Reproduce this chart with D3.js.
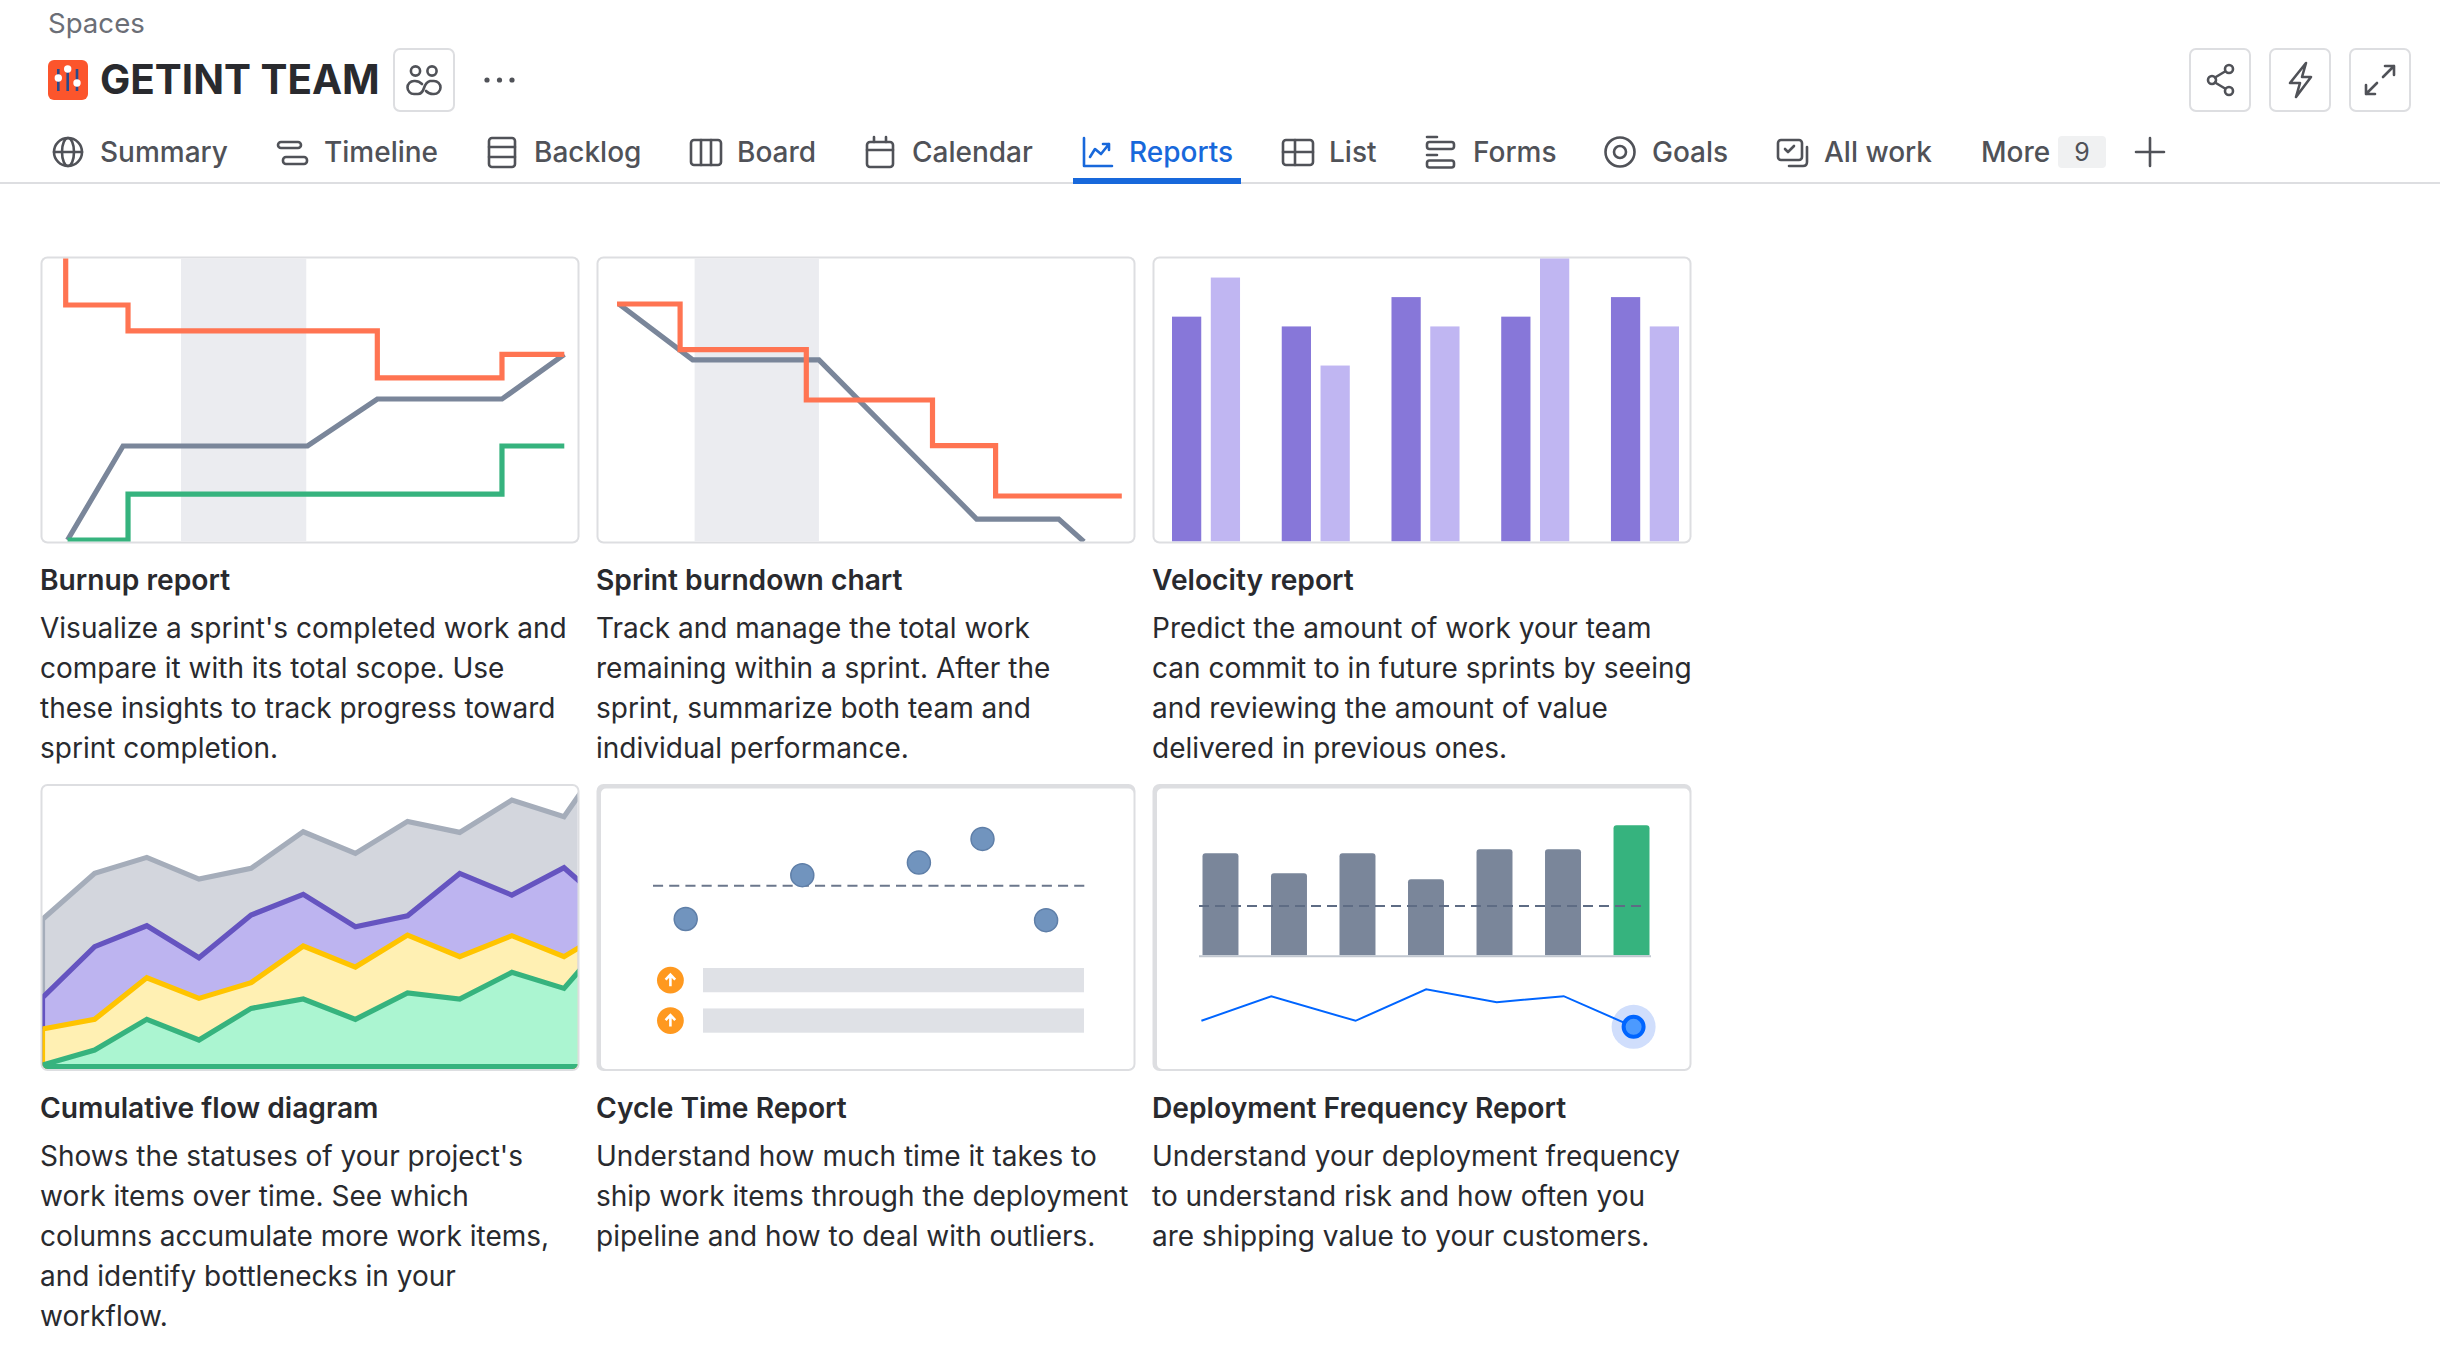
<!DOCTYPE html>
<html>
<head>
<meta charset="utf-8">
<title>Reports</title>
<script src="https://cdn.jsdelivr.net/npm/d3@7"></script>
<style>
  html, body { margin: 0; background: #fff; }
  svg { display: block; }
  text { font-family: Inter, "Noto Sans", sans-serif; }
</style>
</head>
<body>
<svg id="page" width="2440" height="1372"></svg>
<script>
// ---- page text
const tabNames = ['Summary', 'Timeline', 'Backlog', 'Board', 'Calendar', 'Reports', 'List', 'Forms', 'Goals', 'All work'];
const tabTextX = [100, 324, 534, 737, 912, 1129, 1329, 1473, 1652, 1824];
const tabIconX = [68, 292, 502, 706, 880, 1098, 1298, 1440, 1620, 1792];

const reportTitles = ['Burnup report', 'Sprint burndown chart', 'Velocity report', 'Cumulative flow diagram', 'Cycle Time Report', 'Deployment Frequency Report'];
const reportBlurbs = [
  ["Visualize a sprint's completed work and", 'compare it with its total scope. Use', 'these insights to track progress toward', 'sprint completion.'],
  ['Track and manage the total work', 'remaining within a sprint. After the', 'sprint, summarize both team and', 'individual performance.'],
  ['Predict the amount of work your team', 'can commit to in future sprints by seeing', 'and reviewing the amount of value', 'delivered in previous ones.'],
  ["Shows the statuses of your project's", 'work items over time. See which', 'columns accumulate more work items,', 'and identify bottlenecks in your', 'workflow.'],
  ['Understand how much time it takes to', 'ship work items through the deployment', 'pipeline and how to deal with outliers.'],
  ['Understand your deployment frequency', 'to understand risk and how often you', 'are shipping value to your customers.']
];

// ---- burnup
const burnupScopeDays = [0, 0, 1, 1, 5, 5, 7, 7, 8];
const burnupScope = [12, 10, 10, 8.9, 8.9, 6.9, 6.9, 7.9, 7.9];
const burnupGuideDays = [0.03, 0.92, 3.88, 5, 7, 8];
const burnupGuide = [0, 4, 4, 6, 6, 7.9];
const burnupDoneDays = [0.03, 1, 1, 7, 7, 8];
const burnupDone = [0, 0, 1.95, 1.95, 4, 4];
const burnupWeekend = [1.85, 3.86];

// ---- burndown
const burndownLeftDays = [0, 1, 1, 3, 3, 5, 5, 6, 6, 8];
const burndownLeft = [12, 12, 10.1, 10.1, 8, 8, 6.1, 6.1, 4, 4];
const burndownGuideDays = [0.03, 1.2, 3.2, 5.7, 7, 7.4];
const burndownGuide = [12, 9.67, 9.67, 3.04, 3.04, 2.1];
const burndownWeekend = [1.23, 3.2];

// ---- velocity
const sprints = ['S1', 'S2', 'S3', 'S4', 'S5'];
const committed = [23, 22, 25, 23, 25];
const completed = [27, 18, 22, 29, 22];

// ---- cumulative flow, running totals per status
const flowDays = [0, 1, 2, 3, 4, 5, 6, 7, 8, 9, 10, 11];
const flowDone = [0.5, 5, 14.2, 8, 17.5, 20.3, 14.2, 22.1, 20.3, 28.3, 23.5, 41.5];
const flowReview = [11.3, 14.2, 26.7, 20.5, 25.2, 36.2, 29.9, 39.5, 33, 39.3, 33, 42.4];
const flowActive = [20.7, 36, 42.3, 32.7, 45.5, 51.7, 42, 45.3, 58, 51.5, 59.7, 45.9];
const flowTodo = [44.2, 58, 62.8, 56.3, 59.5, 70.5, 64, 73.6, 70.3, 80, 75, 97.5];

// ---- cycle time
const cycleDays = [0, 11, 22, 28, 34];
const cycleHours = [8.9, 23.5, 27.7, 35.6, 8.5];
const cycleMean = 20;
const outlierCount = ['a', 'b'];

// ---- deployment frequency
const deployWeeks = ['W1', 'W2', 'W3', 'W4', 'W5', 'W6', 'W7'];
const deployCounts = [51, 41, 51, 38, 53, 53, 65];
const deployMean = 24.6;
const riskPos = [0, 0.97, 2.14, 3.12, 4.1, 5.03, 6];
const riskValues = [3.2, 7.3, 3.2, 8.45, 6.3, 7.3, 2.2];

const svg = d3.select('#page');
const ink = '#505258', dark = '#292a2e', border = '#dddee1';
const red = '#ff7452', slate = '#7a869a', green = '#36b37e';
const trendWidth = 5.2;

function label(parent, x, y, str, size, weight, fill, anchor) {
  return parent.append('text').attr('x', x).attr('y', y).text(str)
    .attr('font-size', size).attr('font-weight', weight || 400)
    .attr('fill', fill || dark).attr('text-anchor', anchor || 'start');
}

function line(parent, xs, ys, x, y, color, width) {
  const gen = d3.line().x(i => x(xs[i])).y(i => y(ys[i]));
  return parent.append('path').attr('d', gen(d3.range(xs.length)))
    .attr('fill', 'none').attr('stroke', color).attr('stroke-width', width)
    .attr('stroke-linejoin', 'miter');
}

// ---- icons, all drawn around their own center
function stroked(g, color, width) {
  return g.attr('fill', 'none').attr('stroke', color || ink).attr('stroke-width', width || 2.6)
    .attr('stroke-linecap', 'round').attr('stroke-linejoin', 'round');
}
function icon(x, y, color, width) {
  return stroked(svg.append('g').attr('transform', `translate(${x},${y})`), color, width);
}
const tabIcons = {
  Summary(g) {
    g.append('circle').attr('r', 14);
    g.append('ellipse').attr('rx', 6).attr('ry', 14);
    g.append('path').attr('d', 'M-14 0H14');
  },
  Timeline(g) {
    g.append('rect').attr('x', -14).attr('y', -10).attr('width', 23).attr('height', 6).attr('rx', 3);
    g.append('rect').attr('x', -9).attr('y', 5).attr('width', 24).attr('height', 7).attr('rx', 3);
  },
  Backlog(g) {
    g.append('rect').attr('x', -13).attr('y', -14).attr('width', 26).attr('height', 29).attr('rx', 3);
    g.append('path').attr('d', 'M-13 -5H13M-13 5H13');
  },
  Board(g) {
    g.append('rect').attr('x', -15).attr('y', -12).attr('width', 30).attr('height', 25).attr('rx', 3);
    g.append('path').attr('d', 'M-5 -12V13M5 -12V13');
  },
  Calendar(g) {
    g.append('rect').attr('x', -13).attr('y', -10).attr('width', 26).attr('height', 25).attr('rx', 3);
    g.append('path').attr('d', 'M-13 -2H13M-6 -15V-10M6 -15V-10');
  },
  Reports(g) {
    g.append('path').attr('d', 'M-14 -14V14H14M-8 5L-3 -3L3 2L11 -8M5 -8H11V-2');
  },
  List(g) {
    g.append('rect').attr('x', -15).attr('y', -12).attr('width', 30).attr('height', 25).attr('rx', 3);
    g.append('path').attr('d', 'M-15 0H15M-3 -12V13');
  },
  Forms(g) {
    g.append('path').attr('d', 'M-13 -15H-3M-13 3H-3');
    g.append('rect').attr('x', -13).attr('y', -10).attr('width', 27).attr('height', 7).attr('rx', 2.5);
    g.append('rect').attr('x', -13).attr('y', 8.5).attr('width', 27).attr('height', 7).attr('rx', 2.5);
  },
  Goals(g) {
    g.append('circle').attr('r', 14.5);
    g.append('circle').attr('r', 6);
  },
  'All work'(g) {
    g.append('rect').attr('x', -14).attr('y', -12).attr('width', 24).attr('height', 20).attr('rx', 3);
    g.append('path').attr('d', 'M-7 -3L-4 0L2 -6M15 -5V10Q15 14 11 14H-3');
  }
};

// ---- header
label(svg, 48, 33, 'Spaces', 27.6, 400, '#6b6e76');
label(svg, 100, 94, 'GETINT TEAM', 40.4, 700, dark);

const logo = svg.append('g');
logo.append('rect').attr('x', 48).attr('y', 60).attr('width', 40).attr('height', 40).attr('rx', 6).attr('fill', '#fc552c');
[[58.3, 78], [67.7, 69], [77, 83]].forEach(k => {
  logo.append('path').attr('d', `M${k[0]} 69V91`).attr('stroke', '#2a4a8a').attr('stroke-width', 2.6);
  logo.append('circle').attr('cx', k[0]).attr('cy', k[1]).attr('r', 3.7).attr('fill', '#fff');
});

[393, 2189, 2269, 2349].forEach(x => {
  svg.append('rect').attr('x', x + 1).attr('y', 49).attr('width', 60).attr('height', 62).attr('rx', 6)
    .attr('fill', '#fff').attr('stroke', '#dddee1').attr('stroke-width', 2);
});

const people = icon(424, 80);
[-8.5, 8].forEach(dx => people.append('circle').attr('cx', dx).attr('cy', -9).attr('r', 4.6));
people.append('path').attr('d', 'M-2 4Q-5 1 -9 1H-10A6.5 6.5 0 0 0 -10 14H-6Q-2 14 0 8Q2 2 6 1H10A6.5 6.5 0 0 1 10 14H9Q5 14 2 11');
[487, 499.5, 512].forEach(x => svg.append('circle').attr('cx', x).attr('cy', 80).attr('r', 2.6).attr('fill', ink));

const share = icon(2220, 80);
share.append('circle').attr('cx', 9).attr('cy', -11).attr('r', 4);
share.append('circle').attr('cx', -8).attr('cy', 0).attr('r', 4);
share.append('circle').attr('cx', 9).attr('cy', 11).attr('r', 4);
share.append('path').attr('d', 'M-5 -2.5L5 -8.5M-5 2.5L5 8.5');
icon(2300, 80).append('path').attr('d', 'M6 -17L-10 3H0L-4 17L11 -3H2Z');
icon(2380, 80).append('path').attr('d', 'M3 -3L14 -14M5 -14H14V-5M-3 3L-14 14M-14 5V14H-5');

// ---- tabs
tabNames.forEach((name, i) => {
  const active = name === 'Reports';
  const color = active ? '#1868db' : ink;
  label(svg, tabTextX[i], 162, name, 28, 500, color);
  tabIcons[name](icon(tabIconX[i], 152, color));
});
label(svg, 1981, 162, 'More', 28, 500, ink);
svg.append('rect').attr('x', 2058).attr('y', 136).attr('width', 48).attr('height', 32).attr('rx', 4).attr('fill', '#f0f1f2');
label(svg, 2082, 161, '9', 25, 400, ink, 'middle');
icon(2150, 152).append('path').attr('d', 'M-14 0H14M0 -14V14');

svg.append('rect').attr('x', 0).attr('y', 182).attr('width', 2440).attr('height', 2).attr('fill', '#dddee1');
svg.append('rect').attr('x', 1073).attr('y', 178).attr('width', 168).attr('height', 6).attr('fill', '#1868db');

// ---- cards
const colX = [40.5, 596.5, 1152.5];
const rowY = [256.5, 784];
const cardW = 539;
const cardH = [287, 287];

function card(index, thick) {
  const col = index % 3, row = Math.floor(index / 3);
  const x = colX[col], y = rowY[row], h = cardH[row];
  const g = svg.append('g');
  const id = 'clip' + index;
  const inset = thick ? 4.5 : 2;
  g.append('clipPath').attr('id', id).append('rect')
    .attr('x', x + inset).attr('y', y + inset)
    .attr('width', cardW - inset - 2).attr('height', h - inset - 2).attr('rx', 5);
  g.append('rect').attr('x', x).attr('y', y).attr('width', cardW).attr('height', h).attr('rx', 7).attr('fill', border);
  g.append('rect').attr('x', x + inset).attr('y', y + inset)
    .attr('width', cardW - inset - 2).attr('height', h - inset - 2).attr('rx', 5).attr('fill', '#fff');
  const titleY = 590 + row * 528;
  const textX = [40, 596, 1152][col];
  label(svg, textX, titleY, reportTitles[index], 28.2, 600, dark);
  reportBlurbs[index].forEach((str, i) => label(svg, textX, titleY + 48 + i * 40, str, 28, 400, dark));
  return g.append('g').attr('clip-path', `url(#${id})`);
}

// burnup
{
  const plot = card(0);
  const x = d3.scaleLinear().domain([0, 8]).range([65.7, 564.3]);
  const y = d3.scaleLinear().domain([0, 12]).range([540, 258]);
  plot.append('rect').attr('x', x(burnupWeekend[0])).attr('y', 258)
    .attr('width', x(burnupWeekend[1]) - x(burnupWeekend[0])).attr('height', 284).attr('fill', '#ebecf0');
  line(plot, burnupGuideDays, burnupGuide, x, y, slate, trendWidth);
  line(plot, burnupDoneDays, burnupDone, x, y, green, trendWidth);
  line(plot, burnupScopeDays, burnupScope, x, y, red, trendWidth);
}

// burndown
{
  const plot = card(1);
  const x = d3.scaleLinear().domain([0, 8]).range([617, 1121.8]);
  const y = d3.scaleLinear().domain([0, 12]).range([592, 304]);
  plot.append('rect').attr('x', x(burndownWeekend[0])).attr('y', 258)
    .attr('width', x(burndownWeekend[1]) - x(burndownWeekend[0])).attr('height', 284).attr('fill', '#ebecf0');
  line(plot, burndownGuideDays, burndownGuide, x, y, slate, trendWidth);
  line(plot, burndownLeftDays, burndownLeft, x, y, red, trendWidth);
}

// velocity
{
  const plot = card(2);
  const x = d3.scaleBand().domain(sprints).range([1172, 1679]).paddingInner(0.38);
  const sub = d3.scaleBand().domain([0, 1]).range([0, x.bandwidth()]).paddingInner(0.246);
  const y = d3.scaleLinear().domain([0, 29]).range([541.5, 258]);
  [[committed, '#8777d9'], [completed, '#c0b6f2']].forEach((series, s) => {
    plot.selectAll(null).data(series[0]).join('rect')
      .attr('x', (d, i) => x(sprints[i]) + sub(s)).attr('y', d => y(d))
      .attr('width', sub.bandwidth()).attr('height', d => y(0) - y(d)).attr('fill', series[1]);
  });
}

// cumulative flow
{
  const plot = card(3);
  const x = d3.scaleLinear().domain([0, 10]).range([42.5, 564]);
  const y = d3.scaleLinear().domain([0, 100]).range([1066.7, 733.4]);
  const layers = [
    [flowTodo, '#d3d6dd', '#a5adba'],
    [flowActive, '#bdb4f0', '#6554c0'],
    [flowReview, '#fff0b3', '#ffc400'],
    [flowDone, '#abf5d1', green]
  ];
  layers.forEach(layer => {
    const area = d3.area().x(d => x(d)).y0(y(0)).y1((d, i) => y(layer[0][i]));
    plot.append('path').attr('d', area(flowDays))
      .attr('fill', layer[1]).attr('stroke', layer[2]).attr('stroke-width', trendWidth);
  });
}

// cycle time
{
  const plot = card(4, true);
  const x = d3.scaleLinear().domain([0, 34]).range([685.7, 1046.1]);
  const y = d3.scaleLinear().domain([0, 40]).range([945.7, 825.7]);
  plot.append('line').attr('x1', 653).attr('x2', 1085).attr('y1', y(cycleMean)).attr('y2', y(cycleMean))
    .attr('stroke', '#6b778c').attr('stroke-width', 2).attr('stroke-dasharray', '10.1 6.1');
  plot.selectAll(null).data(cycleHours).join('circle')
    .attr('cx', (d, i) => x(cycleDays[i])).attr('cy', d => y(d)).attr('r', 11.5)
    .attr('fill', '#7194be').attr('stroke', '#5f7fa8').attr('stroke-width', 1.5);
  const rows = d3.scaleBand().domain(outlierCount).range([968, 1032.7]).paddingInner(0.4);
  outlierCount.forEach(k => {
    plot.append('rect').attr('x', 703).attr('y', rows(k)).attr('width', 381).attr('height', rows.bandwidth()).attr('fill', '#dfe1e6');
    const cy = rows(k) + rows.bandwidth() / 2;
    plot.append('circle').attr('cx', 670.4).attr('cy', cy).attr('r', 13.4).attr('fill', '#ff991f');
    plot.append('path').attr('d', `M670.4 ${cy + 6}V${cy - 5}M665.6 ${cy - 0.5}L670.4 ${cy - 5.5}L675.2 ${cy - 0.5}`)
      .attr('fill', 'none').attr('stroke', '#fff').attr('stroke-width', 2.6);
  });
}

// deployment frequency
{
  const plot = card(5, true);
  const x = d3.scaleBand().domain(deployWeeks).range([1202.5, 1649.5]).paddingInner(0.475);
  const y = d3.scaleLinear().domain([0, 65]).range([955.3, 825.3]);
  const bottom = y(0);
  plot.selectAll(null).data(deployCounts).join('path')
    .attr('d', (d, i) => {
      const l = x(deployWeeks[i]), r = l + x.bandwidth(), t = y(d);
      return `M${l} ${bottom}V${t + 3}Q${l} ${t} ${l + 3} ${t}H${r - 3}Q${r} ${t} ${r} ${t + 3}V${bottom}Z`;
    })
    .attr('fill', (d, i) => i === deployCounts.length - 1 ? green : slate);
  plot.append('line').attr('x1', 1199).attr('x2', 1651).attr('y1', bottom + 1).attr('y2', bottom + 1)
    .attr('stroke', '#c1c7d0').attr('stroke-width', 2);
  plot.append('line').attr('x1', 1199).attr('x2', 1645).attr('y1', y(deployMean)).attr('y2', y(deployMean))
    .attr('stroke', '#5e6c84').attr('stroke-width', 2).attr('stroke-dasharray', '10 6');

  const rx = d3.scaleLinear().domain([0, 6]).range([1201.4, 1633.6]);
  const ry = d3.scaleLinear().domain([0, 10]).range([1040, 980]);
  const last = riskPos.length - 1;
  plot.append('circle').attr('cx', rx(riskPos[last])).attr('cy', ry(riskValues[last])).attr('r', 22).attr('fill', '#d0defc');
  line(plot, riskPos, riskValues, rx, ry, '#0065ff', 2);
  plot.append('circle').attr('cx', rx(riskPos[last])).attr('cy', ry(riskValues[last])).attr('r', 10)
    .attr('fill', '#4c9aff').attr('stroke', '#0065ff').attr('stroke-width', 4);
}
</script>
</body>
</html>
